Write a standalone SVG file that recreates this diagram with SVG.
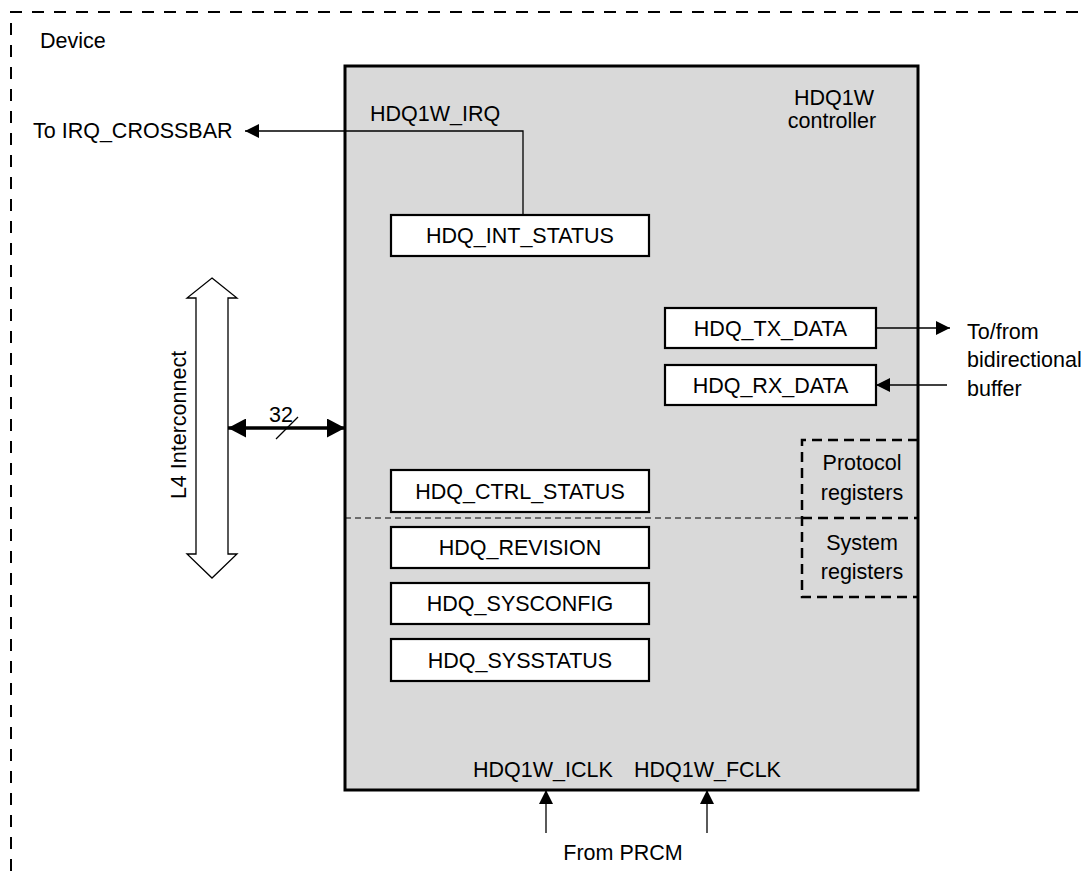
<svg xmlns="http://www.w3.org/2000/svg" width="1086" height="871" viewBox="0 0 1086 871">
<style>
text{font-family:"Liberation Sans",Arial,sans-serif;font-size:21.5px;fill:#000}
.mid{text-anchor:middle}
.reg{fill:#fff;stroke:#000;stroke-width:2.2}
.thin{fill:none;stroke:#000;stroke-width:1.3}
</style>
<defs>
<marker id="ah" markerUnits="userSpaceOnUse" markerWidth="14" markerHeight="14" refX="14" refY="7" orient="auto-start-reverse" viewBox="0 0 14 14"><path d="M0,0 L14,7 L0,14 z" fill="#000"/></marker>
<marker id="ahb" markerUnits="userSpaceOnUse" markerWidth="18" markerHeight="19" refX="18" refY="9.5" orient="auto-start-reverse" viewBox="0 0 18 19"><path d="M0,0 L18,9.5 L0,19 z" fill="#000"/></marker>
</defs>
<rect width="1086" height="871" fill="#fff"/>
<g id="device">
<path d="M11,871 V12 H1086" fill="none" stroke="#000" stroke-width="2" stroke-dasharray="12 10"/>
<text x="40" y="48">Device</text>
</g>
<g id="controller">
<rect x="345" y="66" width="573" height="724" fill="#d9d9d9" stroke="#000" stroke-width="3"/>
<text x="834" y="105" class="mid">HDQ1W</text>
<text x="832" y="128" class="mid">controller</text>
<text x="370" y="121">HDQ1W_IRQ</text>
<text x="473" y="777">HDQ1W_ICLK</text>
<text x="634" y="777">HDQ1W_FCLK</text>
</g>
<g id="groups">
<path d="M345,518 H802" fill="none" stroke="#000" stroke-width="1" stroke-dasharray="6 4"/>
<path d="M918,440 H802 V597 H918 M802,518 H918" fill="none" stroke="#000" stroke-width="2.5" stroke-dasharray="10 6"/>
<text x="862" y="470" class="mid">Protocol</text>
<text x="862" y="500" class="mid">registers</text>
<text x="862" y="550" class="mid">System</text>
<text x="862" y="579" class="mid">registers</text>
</g>
<g id="int_status"><rect class="reg" x="391" y="215" width="258" height="41"/><text x="520" y="243" class="mid">HDQ_INT_STATUS</text></g>
<g id="tx_data"><rect class="reg" x="665" y="308" width="211" height="40"/><text x="770.5" y="335.5" class="mid">HDQ_TX_DATA</text></g>
<g id="rx_data"><rect class="reg" x="665" y="365" width="211" height="40"/><text x="770.5" y="392.5" class="mid">HDQ_RX_DATA</text></g>
<g id="ctrl_status"><rect class="reg" x="391" y="470" width="258" height="42"/><text x="520" y="498.5" class="mid">HDQ_CTRL_STATUS</text></g>
<g id="revision"><rect class="reg" x="391" y="527" width="258" height="41"/><text x="520" y="555" class="mid">HDQ_REVISION</text></g>
<g id="sysconfig"><rect class="reg" x="391" y="583" width="258" height="41"/><text x="520" y="611" class="mid">HDQ_SYSCONFIG</text></g>
<g id="sysstatus"><rect class="reg" x="391" y="639" width="258" height="42"/><text x="520" y="667.5" class="mid">HDQ_SYSSTATUS</text></g>
<g id="l4">
<polygon points="212,278 237,298 228,298 228,554 237,554 212,578 187,554 196,554 196,298 187,298" fill="#fff" stroke="#000" stroke-width="1.3"/>
<text transform="translate(178,425) rotate(-90)" x="0" y="7.5" class="mid">L4 Interconnect</text>
</g>
<g id="labels">
<text x="33" y="138">To IRQ_CROSSBAR</text>
<text x="967" y="339">To/from</text>
<text x="967" y="367">bidirectional</text>
<text x="967" y="396">buffer</text>
<text x="623" y="860" class="mid">From PRCM</text>
<text x="281" y="422" class="mid">32</text>
</g>
<g id="connectors">
<path class="thin" d="M523,215 V131 H245" marker-end="url(#ah)"/>
<path class="thin" d="M876,328 H950" marker-end="url(#ah)"/>
<path class="thin" d="M947,385 H876" marker-end="url(#ah)"/>
<path class="thin" d="M546,833 V790" marker-end="url(#ah)"/>
<path class="thin" d="M707,833 V790" marker-end="url(#ah)"/>
<path d="M228,428 H345" fill="none" stroke="#000" stroke-width="3.5" marker-start="url(#ahb)" marker-end="url(#ahb)"/>
<path d="M276,439 L298,417" stroke="#000" stroke-width="1.2"/>
</g>
</svg>
